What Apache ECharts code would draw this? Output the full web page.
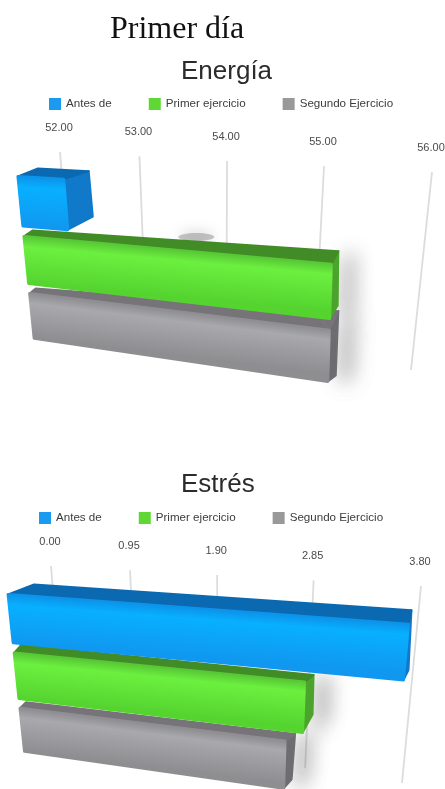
<!DOCTYPE html>
<html>
<head>
<meta charset="utf-8">
<title>Primer día</title>
<script src="https://cdn.jsdelivr.net/npm/echarts@6/dist/echarts.min.js"></script>
<style>html,body{margin:0;padding:0;background:#fff}#chart{width:445px;height:789px}</style>
</head>
<body>
<div id="chart"></div>
<script>
// Series and axis values
const seriesNames = ['Antes de', 'Primer ejercicio', 'Segundo Ejercicio'];
const energiaValues = [52.5, 55, 55];
const estresValues = [3.8, 2.95, 2.79];
const energiaTicks = [52, 53, 54, 55, 56];
const energiaTickLabels = ['52.00', '53.00', '54.00', '55.00', '56.00'];
const estresTicks = [0, 0.95, 1.9, 2.85, 3.8];
const estresTickLabels = ['0.00', '0.95', '1.90', '2.85', '3.80'];

// Perspective planes of each panel (corner order: min/top, max/top, max/bottom, min/bottom)
// and the apparent depth of every bar: start, end top, end bottom.
const panels = [
  {
    values: energiaValues, ticks: energiaTicks, tickLabels: energiaTickLabels,
    grid: { left: 20, top: 170, width: 400, height: 170 },
    front: [[17.4, 171], [466, 195], [448, 405], [34.6, 343]],
    wall: [[60, 152], [432, 172], [411, 370], [73, 318]],
    depth: [
      [[20, -8], [25, -8], [25, -13]],
      [[9, -6], [7, -13], [8, -13]],
      [[6, -5], [9, -19], [8, -6]]
    ],
    glowValue: 53.8
  },
  {
    values: estresValues, ticks: estresTicks, tickLabels: estresTickLabels,
    grid: { left: 20, top: 590, width: 400, height: 170 },
    front: [[7.5, 589], [409, 618], [392, 809], [25, 756]],
    wall: [[51, 566], [421, 586], [402, 783], [64, 731]],
    depth: [
      [[26, -10], [3, -14], [5, -10]],
      [[7, -8], [9, -7], [10, -18]],
      [[6, -6], [10, -7], [8, -9]]
    ],
    glowValue: null
  }
];

const palette = [
  { legend: '#1a9bf0', top: '#0b69b2', side: '#1079c9', stops: ['#0c94ea', '#08b0ff', '#1098f0'] },
  { legend: '#5fd833', top: '#418c26', side: '#4aa62a', stops: ['#58c936', '#6cf03f', '#55d430'] },
  { legend: '#999999', top: '#767379', side: '#6e6e72', stops: ['#8f8f93', '#a9a9ad', '#8e8e91'] }
];

// Homography taking the unit square onto a quadrilateral.
function makeProjection(q) {
  const [p0, p1, p2, p3] = q;
  const sx = p0[0] - p1[0] + p2[0] - p3[0];
  const sy = p0[1] - p1[1] + p2[1] - p3[1];
  const dx1 = p1[0] - p2[0], dx2 = p3[0] - p2[0];
  const dy1 = p1[1] - p2[1], dy2 = p3[1] - p2[1];
  const det = dx1 * dy2 - dx2 * dy1;
  const g = (sx * dy2 - dx2 * sy) / det;
  const h = (dx1 * sy - sx * dy1) / det;
  const a = p1[0] - p0[0] + g * p1[0], b = p3[0] - p0[0] + h * p3[0], c = p0[0];
  const d = p1[1] - p0[1] + g * p1[1], e = p3[1] - p0[1] + h * p3[1], f = p0[1];
  return (u, w) => {
    const k = g * u + h * w + 1;
    return [(a * u + b * w + c) / k, (d * u + e * w + f) / k];
  };
}

const shift = (p, o) => [p[0] + o[0], p[1] + o[1]];

function barItem(panel, rowIndex) {
  const project = makeProjection(panel.front);
  const colors = palette[rowIndex];
  const depth = panel.depth[rowIndex];
  return function (params, api) {
    const rect = params.coordSys;
    const start = api.coord([panel.ticks[0], rowIndex]);
    const end = api.coord([api.value(0), rowIndex]);
    const half = api.size([0, 1])[1] * 0.41;
    const toPlane = (x, y) => project((x - rect.x) / rect.width, (y - rect.y) / rect.height);

    const tl = toPlane(start[0], start[1] - half);
    const tr = toPlane(end[0], end[1] - half);
    const br = toPlane(end[0], end[1] + half);
    const bl = toPlane(start[0], start[1] + half);
    const backTl = shift(tl, depth[0]);
    const backTr = shift(tr, depth[1]);
    const backBr = shift(br, depth[2]);

    // Shade across the bar, at right angles to its slanted top edge
    const ex = tr[0] - tl[0], ey = tr[1] - tl[1];
    const len = Math.hypot(ex, ey) || 1;
    const nx = -ey / len, ny = ex / len;
    const thick = ((bl[0] - tl[0]) * nx + (bl[1] - tl[1]) * ny);
    const gx = tl[0], gy = tl[1];
    const face = new echarts.graphic.LinearGradient(
      gx, gy, gx + nx * thick, gy + ny * thick,
      [
        { offset: 0, color: colors.stops[0] },
        { offset: 0.22, color: colors.stops[1] },
        { offset: 1, color: colors.stops[2] }
      ],
      true
    );

    const children = [];
    if (rowIndex === 1 && panel.glowValue !== null) {
      const g = api.coord([panel.glowValue, rowIndex]);
      const c = toPlane(g[0], g[1] - half);
      children.push({
        type: 'ellipse',
        shape: { cx: c[0], cy: c[1] - 15, rx: 18, ry: 4 },
        style: { fill: 'rgba(130,130,130,0.45)', shadowBlur: 14, shadowColor: 'rgba(110,110,110,0.8)' }
      });
    }
    const sideStyle = { fill: colors.side, stroke: colors.side, lineWidth: 2, lineJoin: 'round' };
    if (rowIndex > 0) {
      sideStyle.shadowBlur = 20;
      sideStyle.shadowOffsetX = 14;
      sideStyle.shadowColor = 'rgba(90,90,90,0.6)';
    }
    children.push({ type: 'polygon', shape: { points: [tr, br, backBr, backTr] }, style: sideStyle });
    children.push({
      type: 'polygon',
      shape: { points: [tl, tr, backTr, backTl] },
      style: { fill: colors.top, stroke: colors.top, lineWidth: 2, lineJoin: 'round' }
    });
    children.push({
      type: 'polygon',
      shape: { points: [tl, tr, br, bl] },
      style: { fill: face, stroke: face, lineWidth: 3, lineJoin: 'round' }
    });
    return { type: 'group', children };
  };
}

function wallItem(panel) {
  const project = makeProjection(panel.wall);
  return function (params, api) {
    const rect = params.coordSys;
    const p = api.coord([api.value(0), 0]);
    const u = (p[0] - rect.x) / rect.width;
    const top = project(u, 0);
    const bottom = project(u, 1);
    return {
      type: 'group',
      children: [
        {
          type: 'line',
          shape: { x1: top[0], y1: top[1], x2: bottom[0], y2: bottom[1] },
          style: { stroke: '#dcdcdc', lineWidth: 1.8 }
        },
        {
          type: 'text',
          style: {
            x: top[0] - 1, y: top[1] - 24,
            text: panel.tickLabels[params.dataIndex],
            fill: '#4a4a4a', font: '11px "Liberation Sans", Arial, sans-serif',
            textAlign: 'center', textVerticalAlign: 'middle'
          }
        }
      ]
    };
  };
}

const grids = [], xAxes = [], yAxes = [], series = [];
panels.forEach((panel, i) => {
  grids.push(panel.grid);
  xAxes.push({
    type: 'value', gridIndex: i, show: false,
    min: panel.ticks[0], max: panel.ticks[panel.ticks.length - 1]
  });
  yAxes.push({ type: 'category', gridIndex: i, show: false, inverse: true, data: seriesNames });
  series.push({
    type: 'custom', name: 'ticks' + i, xAxisIndex: i, yAxisIndex: i, z: 1, silent: true,
    clip: false, data: panel.ticks.map(t => [t]), encode: { x: 0 }, renderItem: wallItem(panel)
  });
  seriesNames.forEach((name, r) => {
    series.push({
      type: 'custom', name, xAxisIndex: i, yAxisIndex: i, z: 4 - r, silent: true,
      clip: false, itemStyle: { color: palette[r].legend },
      data: [[panel.values[r]]], encode: { x: 0 }, renderItem: barItem(panel, r)
    });
  });
});

const legendText = { fontSize: 11.6, color: '#3c3c3c', fontFamily: '"Liberation Sans", Arial, sans-serif' };
const legendBase = {
  data: seriesNames, icon: 'rect', itemWidth: 12, itemHeight: 12, itemGap: 37,
  selectedMode: false, orient: 'horizontal', padding: 0, textStyle: legendText
};

const chart = echarts.init(document.getElementById('chart'), null, { renderer: 'canvas' });
chart.setOption({
  animation: false,
  backgroundColor: '#ffffff',
  title: [
    {
      text: 'Primer día', left: 110, top: 14, padding: 0,
      textStyle: { fontFamily: '"Liberation Serif", "Times New Roman", serif', fontSize: 32, fontWeight: 'normal', color: '#111111' }
    },
    {
      text: 'Energía', left: 181, top: 59, padding: 0,
      textStyle: { fontFamily: '"Liberation Sans", Arial, sans-serif', fontSize: 26, fontWeight: 'normal', color: '#2b2b2b' }
    },
    {
      text: 'Estrés', left: 181, top: 472, padding: 0,
      textStyle: { fontFamily: '"Liberation Sans", Arial, sans-serif', fontSize: 26, fontWeight: 'normal', color: '#2b2b2b' }
    }
  ],
  legend: [
    Object.assign({}, legendBase, { left: 49, top: 98 }),
    Object.assign({}, legendBase, { left: 39, top: 512 })
  ],
  grid: grids,
  xAxis: xAxes,
  yAxis: yAxes,
  series
});
</script>
</body>
</html>
